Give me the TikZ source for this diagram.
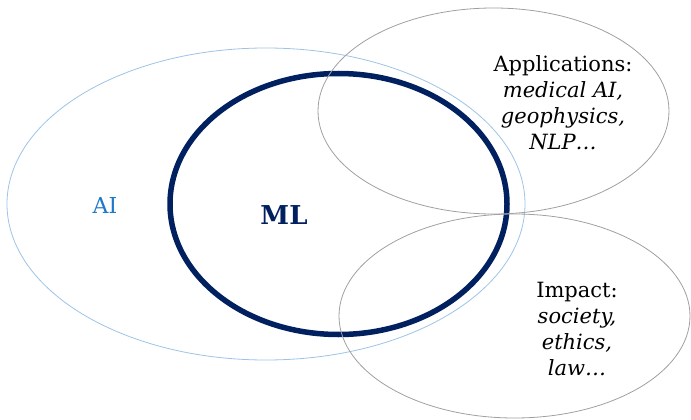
\documentclass[tikz,border=0pt]{standalone}
\usepackage{fontspec}
\setmainfont{DejaVu Serif}
\definecolor{navy}{HTML}{002060}
\definecolor{aiblue}{HTML}{9DC3E6}
\definecolor{aitext}{HTML}{1F78C8}
\definecolor{grayline}{HTML}{A0A0A0}
\tikzset{
  aiset/.style={draw=aiblue, line width=0.8pt},
  mlset/.style={draw=navy, line width=5.5pt},
  sideset/.style={draw=grayline, line width=0.8pt},
  lbl/.style={align=center, font=\fontsize{21}{26}\selectfont, inner sep=0pt}
}
\begin{document}
\begin{tikzpicture}[x=1pt,y=-1pt]
\useasboundingbox (0,0) rectangle (691,420);
\path[aiset] (266,204) ellipse [x radius=259, y radius=156];
\path[mlset] (338.5,204) ellipse [x radius=168.5, y radius=130.5];
\path[sideset] (493.5,111) ellipse [x radius=175.5, y radius=103];
\path[sideset] (514.5,316) ellipse [x radius=175.5, y radius=102];
\node[lbl, text=aitext, anchor=base, font=\fontsize{22}{26}\selectfont] (ai) at (105,213) {AI};
\node[lbl, text=navy, anchor=base, font=\fontsize{26}{26}\selectfont\bfseries] (ml) at (284,224) {ML};
\node[lbl, anchor=center] (app) at (563,103) {Applications:\\\textit{medical AI,}\\\textit{geophysics,}\\\textit{NLP\dots}};
\node[lbl, anchor=center] (imp) at (577,329) {Impact:\\\textit{society,}\\\textit{ethics,}\\\textit{law\dots}};
\end{tikzpicture}
\end{document}
